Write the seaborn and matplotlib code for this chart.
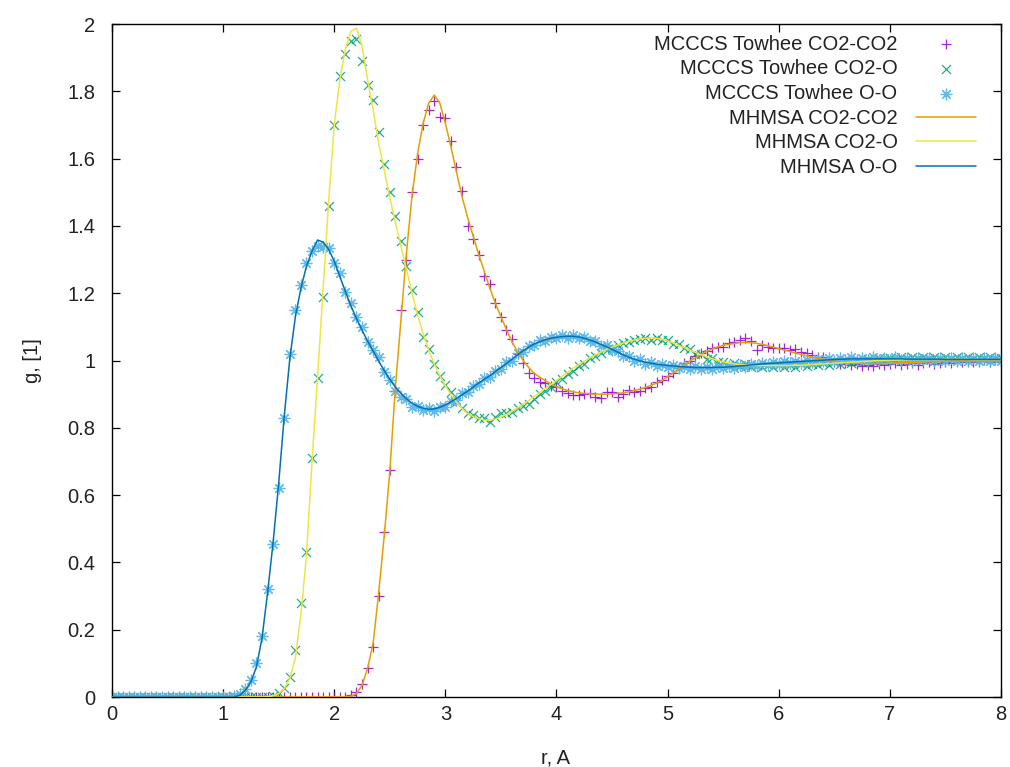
import numpy as np
import pandas as pd
import matplotlib
matplotlib.use("Agg")
import matplotlib.pyplot as plt
import seaborn as sns

# ---------------- data (r grid: 0.00 .. 8.00 step 0.05, rows of 10 = 0.5 A) ----------------
r = np.round(np.arange(161) * 0.05, 2)

Z10 = [0.0] * 10

# MHMSA O-O (line)
oo_line = (Z10 + Z10 +
    [0, 0, 0, 0.005, 0.02, 0.045, 0.09, 0.175, 0.31, 0.46] +
    [0.635, 0.835, 1.005, 1.13, 1.215, 1.28, 1.325, 1.358, 1.352, 1.33] +
    [1.295, 1.25, 1.205, 1.162, 1.125, 1.09, 1.058, 1.028, 0.998, 0.97] +
    [0.944, 0.921, 0.902, 0.886, 0.873, 0.864, 0.858, 0.855, 0.856, 0.861] +
    [0.868, 0.877, 0.887, 0.898, 0.909, 0.921, 0.933, 0.944, 0.955, 0.967] +
    [0.979, 0.991, 1.004, 1.017, 1.029, 1.040, 1.049, 1.056, 1.062, 1.066] +
    [1.069, 1.071, 1.072, 1.072, 1.070, 1.066, 1.061, 1.055, 1.048, 1.041] +
    [1.033, 1.025, 1.017, 1.010, 1.004, 0.999, 0.995, 0.992, 0.989, 0.987] +
    [0.985, 0.984, 0.982, 0.981, 0.980, 0.979, 0.979, 0.979, 0.979, 0.980] +
    [0.980, 0.981, 0.982, 0.984, 0.985, 0.987, 0.988, 0.990, 0.991, 0.992] +
    [0.993, 0.994, 0.995, 0.996, 0.997, 0.998, 0.999, 1.000, 1.001, 1.002] +
    [1.003, 1.004, 1.004, 1.005, 1.005, 1.005, 1.005, 1.005, 1.005, 1.005] +
    [1.005, 1.005, 1.005, 1.004, 1.004, 1.004, 1.004, 1.004, 1.004, 1.004] +
    [1.003, 1.003, 1.003, 1.003, 1.003, 1.003, 1.003, 1.003, 1.003, 1.003] +
    [1.003])

# MCCCS Towhee O-O (points)
oo_mc = (Z10 + Z10 +
    [0, 0, 0.002, 0.008, 0.025, 0.05, 0.1, 0.18, 0.32, 0.455] +
    [0.62, 0.83, 1.02, 1.15, 1.225, 1.29, 1.325, 1.34, 1.338, 1.333] +
    [1.29, 1.26, 1.205, 1.17, 1.128, 1.1, 1.056, 1.031, 1.011, 0.967] +
    [0.942, 0.91, 0.892, 0.885, 0.863, 0.866, 0.853, 0.858, 0.85, 0.863] +
    [0.862, 0.88, 0.883, 0.902, 0.905, 0.925, 0.93, 0.948, 0.952, 0.97] +
    [0.976, 0.995, 1.0, 1.021, 1.025, 1.044, 1.046, 1.06, 1.058, 1.07] +
    [1.066, 1.075, 1.068, 1.076, 1.066, 1.07, 1.058, 1.058, 1.044, 1.045] +
    [1.03, 1.028, 1.013, 1.014, 1.0, 1.003, 0.99, 0.996, 0.985, 0.99] +
    [0.981, 0.988, 0.978, 0.984, 0.976, 0.983, 0.975, 0.982, 0.976, 0.984] +
    [0.977, 0.985, 0.979, 0.988, 0.982, 0.99, 0.985, 0.993, 0.988, 0.996] +
    [0.99, 0.998, 0.992, 1.0, 0.994, 1.002, 0.996, 1.004, 0.998, 1.006] +
    [1.0, 1.008, 1.001, 1.009, 1.002, 1.008, 1.001, 1.009, 1.002, 1.008] +
    [1.001, 1.009, 1.002, 1.007, 1.0, 1.008, 1.001, 1.007, 1.0, 1.008] +
    [1.0, 1.007, 0.999, 1.007, 1.0, 1.006, 0.999, 1.007, 1.0, 1.006] +
    [1.0])

# MHMSA CO2-O (line)
co_line = (Z10 + Z10 +
    [0, 0, 0, 0, 0, 0, 0, 0, 0.001, 0.004] +
    [0.01, 0.025, 0.055, 0.115, 0.245, 0.42, 0.70, 0.95, 1.21, 1.475] +
    [1.70, 1.835, 1.925, 1.978, 1.988, 1.935, 1.835, 1.745, 1.645, 1.565] +
    [1.485, 1.41, 1.34, 1.27, 1.20, 1.135, 1.08, 1.03, 0.99, 0.955] +
    [0.925, 0.899, 0.876, 0.857, 0.843, 0.833, 0.827, 0.823, 0.823, 0.826] +
    [0.832, 0.84, 0.849, 0.859, 0.87, 0.881, 0.893, 0.905, 0.917, 0.929] +
    [0.941, 0.953, 0.965, 0.977, 0.988, 0.998, 1.008, 1.017, 1.025, 1.033] +
    [1.040, 1.046, 1.052, 1.057, 1.061, 1.064, 1.066, 1.067, 1.066, 1.063] +
    [1.058, 1.052, 1.045, 1.038, 1.031, 1.024, 1.017, 1.011, 1.005, 1.0] +
    [0.996, 0.993, 0.99, 0.988, 0.987, 0.986, 0.985, 0.985, 0.985, 0.985] +
    [0.985, 0.985, 0.985, 0.986, 0.986, 0.987, 0.988, 0.989, 0.99, 0.991] +
    [0.992, 0.993, 0.994, 0.995, 0.996, 0.997, 0.998, 0.999, 1.0, 1.0] +
    [1.001, 1.001, 1.002, 1.002, 1.003, 1.003, 1.003, 1.003, 1.003, 1.003] +
    [1.003, 1.003, 1.003, 1.003, 1.003, 1.002, 1.002, 1.002, 1.002, 1.002] +
    [1.002])

# MCCCS Towhee CO2-O (points)
co_mc = (Z10 + Z10 +
    [0, 0, 0, 0, 0, 0, 0, 0, 0, 0.003] +
    [0.012, 0.028, 0.06, 0.14, 0.28, 0.43, 0.71, 0.948, 1.19, 1.46] +
    [1.70, 1.845, 1.91, 1.95, 1.955, 1.89, 1.82, 1.775, 1.68, 1.585] +
    [1.50, 1.43, 1.355, 1.28, 1.21, 1.145, 1.07, 1.035, 0.99, 0.955] +
    [0.928, 0.905, 0.878, 0.86, 0.845, 0.838, 0.83, 0.828, 0.818, 0.832] +
    [0.843, 0.845, 0.848, 0.858, 0.866, 0.872, 0.885, 0.9, 0.91, 0.922] +
    [0.935, 0.945, 0.96, 0.968, 0.985, 0.99, 1.006, 1.012, 1.022, 1.03] +
    [1.036, 1.045, 1.051, 1.055, 1.061, 1.064, 1.066, 1.062, 1.067, 1.06] +
    [1.062, 1.05, 1.048, 1.036, 1.034, 1.02, 1.018, 1.005, 1.006, 0.995] +
    [0.997, 0.988, 0.992, 0.984, 0.99, 0.982, 0.988, 0.981, 0.987, 0.982] +
    [0.988, 0.981, 0.987, 0.982, 0.99, 0.984, 0.991, 0.986, 0.993, 0.988] +
    [0.996, 0.99, 0.998, 0.994, 1.0, 0.996, 1.004, 0.998, 1.006, 1.0] +
    [1.008, 1.002, 1.009, 1.003, 1.01, 1.004, 1.01, 1.004, 1.009, 1.004] +
    [1.01, 1.003, 1.009, 1.004, 1.01, 1.003, 1.009, 1.004, 1.01, 1.004] +
    [1.008])

# MHMSA CO2-CO2 (line)
cc_line = (Z10 * 4 +
    [0, 0, 0, 0.002, 0.01, 0.035, 0.085, 0.16, 0.31, 0.48] +
    [0.67, 0.92, 1.12, 1.32, 1.49, 1.615, 1.705, 1.765, 1.789, 1.765] +
    [1.705, 1.635, 1.56, 1.487, 1.425, 1.37, 1.315, 1.265, 1.215, 1.17] +
    [1.13, 1.092, 1.055, 1.025, 1.0, 0.979, 0.962, 0.95, 0.94, 0.93] +
    [0.922, 0.916, 0.911, 0.907, 0.904, 0.902, 0.901, 0.900, 0.900, 0.900] +
    [0.901, 0.902, 0.904, 0.907, 0.911, 0.915, 0.920, 0.926, 0.933, 0.941] +
    [0.952, 0.963, 0.975, 0.987, 0.998, 1.008, 1.018, 1.027, 1.034, 1.04] +
    [1.045, 1.048, 1.051, 1.053, 1.054, 1.053, 1.051, 1.048, 1.044, 1.04] +
    [1.035, 1.031, 1.027, 1.022, 1.018, 1.014, 1.01, 1.006, 1.003, 1.0] +
    [0.998, 0.996, 0.994, 0.993, 0.992, 0.991, 0.991, 0.991, 0.991, 0.991] +
    [0.992, 0.992, 0.993, 0.993, 0.994, 0.995, 0.996, 0.996, 0.997, 0.997] +
    [0.998, 0.998, 0.999, 0.999, 1.0, 1.0, 1.001, 1.001, 1.002, 1.002] +
    [1.003])

# MCCCS Towhee CO2-CO2 (points)
cc_mc = (Z10 * 4 +
    [0, 0, 0, 0.005, 0.015, 0.04, 0.085, 0.15, 0.30, 0.49] +
    [0.675, 0.91, 1.15, 1.30, 1.50, 1.60, 1.70, 1.745, 1.77, 1.725] +
    [1.722, 1.652, 1.575, 1.505, 1.40, 1.36, 1.313, 1.25, 1.228, 1.17] +
    [1.13, 1.09, 1.065, 1.02, 0.992, 0.962, 0.947, 0.937, 0.932, 0.925] +
    [0.92, 0.91, 0.903, 0.897, 0.897, 0.899, 0.902, 0.892, 0.888, 0.905] +
    [0.906, 0.892, 0.899, 0.912, 0.907, 0.909, 0.917, 0.92, 0.937, 0.942] +
    [0.955, 0.962, 0.978, 0.992, 1.0, 1.012, 1.021, 1.028, 1.037, 1.041] +
    [1.04, 1.051, 1.055, 1.06, 1.066, 1.058, 1.031, 1.045, 1.041, 1.038] +
    [1.036, 1.037, 1.031, 1.033, 1.026, 1.021, 1.015, 1.011, 1.009, 0.998] +
    [0.995, 0.99, 0.992, 0.986, 0.99, 0.984, 0.988, 0.985, 0.99, 0.986] +
    [0.989, 0.992, 0.986, 0.99, 0.994, 0.987, 0.992, 0.996, 0.99, 0.994] +
    [0.997, 0.993, 0.998, 0.995, 1.0, 0.996, 0.999, 1.002, 0.997, 1.001] +
    [1.0])

labels_pts = ["MCCCS Towhee CO2-CO2", "MCCCS Towhee CO2-O", "MCCCS Towhee O-O"]
labels_lines = ["MHMSA CO2-CO2", "MHMSA CO2-O", "MHMSA O-O"]
x_ticks = [0, 1, 2, 3, 4, 5, 6, 7, 8]
y_ticks = [0, 0.2, 0.4, 0.6, 0.8, 1, 1.2, 1.4, 1.6, 1.8, 2]

for arr in (oo_line, oo_mc, co_line, co_mc, cc_line, cc_mc):
    assert len(arr) == len(r), len(arr)

# ---------------- styling ----------------
sns.set_theme(style="white")
plt.rcParams['font.family'] = ['Liberation Sans', 'DejaVu Sans']
FS = 14.5

fig = plt.figure(figsize=(10.1, 7.67), dpi=100)
ax = fig.add_axes([0.11089, 0.09126, 0.88020, 0.87744])

pt_colors = ["#9400d3", "#009e73", "#56b4e9"]
ln_colors = ["#e69f00", "#f0e442", "#0072b2"]

sns.scatterplot(x=r, y=cc_mc, marker="+", s=60, color=pt_colors[0],
                linewidth=0.9, label=labels_pts[0], ax=ax, zorder=2, alpha=0.85)
sns.scatterplot(x=r, y=co_mc, marker="x", s=42, color=pt_colors[1],
                linewidth=0.9, label=labels_pts[1], ax=ax, zorder=2, alpha=0.85)
sns.scatterplot(x=r, y=oo_mc, marker=(8, 2, 0), s=60, color=pt_colors[2],
                linewidth=0.9, label=labels_pts[2], ax=ax, zorder=2, alpha=0.9)

sns.lineplot(x=r, y=cc_line, color=ln_colors[0], linewidth=1.1,
             label=labels_lines[0], ax=ax, zorder=3)
sns.lineplot(x=r, y=co_line, color=ln_colors[1], linewidth=1.1,
             label=labels_lines[1], ax=ax, zorder=3)
sns.lineplot(x=r, y=oo_line, color=ln_colors[2], linewidth=1.1,
             label=labels_lines[2], ax=ax, zorder=3)

ax.set_xlim(0, 8)
ax.set_ylim(0, 2)
ax.set_xticks(x_ticks)
ax.set_yticks(y_ticks)
ax.set_xticklabels([f"{v:g}" for v in x_ticks])
ax.set_yticklabels([f"{v:g}" for v in y_ticks])

for sp in ax.spines.values():
    sp.set_color("black")
    sp.set_linewidth(1.0)
ax.tick_params(axis="both", which="major", direction="in", length=6,
               width=0.9, color="black", labelsize=FS, labelcolor="#222222",
               top=True, right=True, bottom=True, left=True)
ax.tick_params(axis="x", pad=6)
ax.tick_params(axis="y", pad=12)

ax.set_xlabel("r, A", fontsize=FS, color="#222222")
ax.set_ylabel("g, [1]", fontsize=FS, color="#222222")
ax.xaxis.set_label_coords(0.4994, -0.0758)
ax.yaxis.set_label_coords(-0.0787, 0.5)

handles, labels = ax.get_legend_handles_labels()
leg = ax.legend(handles, labels, loc="upper right", bbox_to_anchor=(0.972, 0.984),
                frameon=False, markerfirst=False, handlelength=3.0,
                handletextpad=0.9, labelspacing=0.28, borderpad=0,
                borderaxespad=0, fontsize=FS, scatterpoints=1)
for t in leg.get_texts():
    t.set_color("#222222")

fig.savefig("out.png", dpi=100, facecolor="white")
